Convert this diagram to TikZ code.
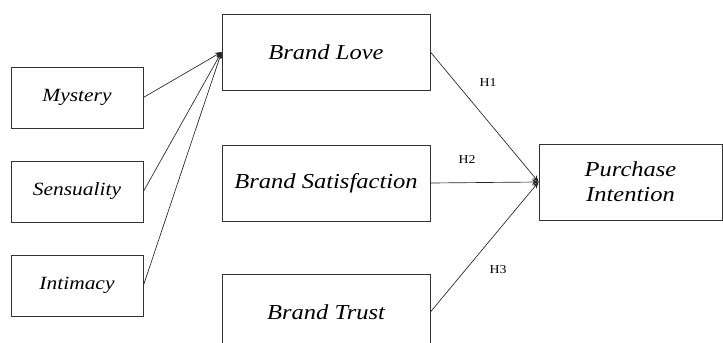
\documentclass[tikz,border=0pt]{standalone}
\usepackage{fontspec}
\setmainfont{Liberation Serif}[FakeStretch=1.15]
\usetikzlibrary{arrows.meta}
\begin{document}
\begin{tikzpicture}[x=0.75pt,y=-0.75pt,
  box/.style={draw=black!80,line width=0.6pt,inner sep=0pt,align=center},
  smallbox/.style={box,minimum width=132*0.75pt,minimum height=61*0.75pt,font=\fontsize{14}{16}\selectfont\itshape},
  bigbox/.style={box,minimum width=208*0.75pt,minimum height=76*0.75pt,font=\fontsize{16}{19}\selectfont\itshape},
  link/.style={draw=black!85,line width=0.5pt,-{Stealth[length=5pt,width=4pt]}},
  hlab/.style={font=\fontsize{9}{11}\selectfont,inner sep=0pt}]
\useasboundingbox (0,0) rectangle (723,342);
\node[smallbox] (mys) at (77,97.5) {Mystery};
\node[smallbox] (sen) at (77,191.5) {Sensuality};
\node[smallbox] (inti) at (77,285.5) {Intimacy};
\node[bigbox] (love) at (326,52) {Brand Love};
\node[bigbox] (sat) at (326,183) {Brand Satisfaction};
\node[bigbox] (trust) at (326,312) {Brand Trust};
\node[box,minimum width=183*0.75pt,minimum height=76*0.75pt,font=\fontsize{16}{18.5}\selectfont\itshape] (pi) at (630.5,182) {Purchase\\Intention};
\draw[link] (mys.east) -- (love.west);
\draw[link] (sen.east) -- (love.west);
\draw[link] (inti.east) -- (love.west);
\draw[link] (love.east) -- (pi.west);
\draw[link] (sat.east) -- (pi.west);
\draw[link] (trust.east) -- (pi.west);
\node[hlab] (h1) at (488,83) {H1};
\node[hlab] (h2) at (467,160) {H2};
\node[hlab] (h3) at (498,270) {H3};
\end{tikzpicture}
\end{document}
